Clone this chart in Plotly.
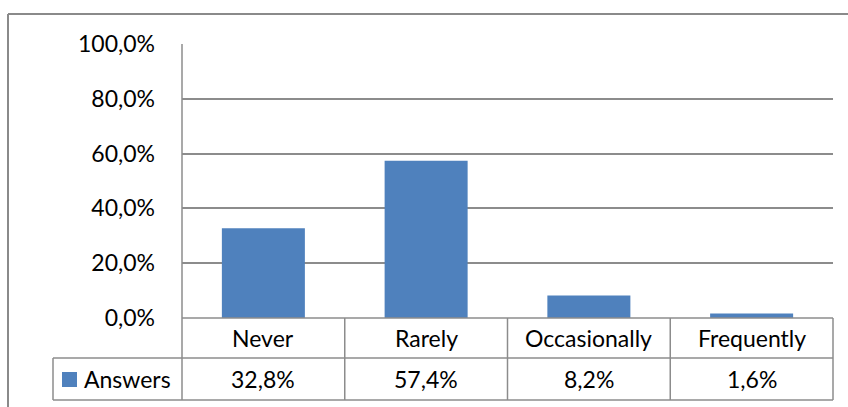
import plotly.graph_objects as go

categories = ["Never", "Rarely", "Occasionally", "Frequently"]
answers = [0.328, 0.574, 0.082, 0.016]
series_name = "Answers"
value_labels = ["32,8%", "57,4%", "8,2%", "1,6%"]

W, H = 848, 407
FONT = "Lato"
FS = 23
GRID = "#8c8c8c"
BAR = "#4f81bd"

def px(x):
    return x / W

def py(y):
    return 1 - y / H

# plot area in pixels
L, R, T, B = 182, 833, 44, 318
ROW1, ROW2 = 358, 400
LEG_L = 53

fig = go.Figure()
fig.add_trace(go.Bar(x=categories, y=answers, marker=dict(color=BAR, line=dict(width=0)),
                     name=series_name, showlegend=False))

shapes = []
def line(x0, y0, x1, y1, w=1.5, c=GRID):
    shapes.append(dict(type="line", xref="paper", yref="paper",
                       x0=px(x0), y0=py(y0), x1=px(x1), y1=py(y1),
                       line=dict(color=c, width=w), layer="above"))

# outer chart border
line(8, 14, 860, 14, 2, "#8a8a8a")
line(8, 14, 8, 420, 2, "#8a8a8a")
# table
line(L, B, R, B)
line(LEG_L, ROW1, R, ROW1)
line(LEG_L, ROW2, R, ROW2)
line(LEG_L, ROW1, LEG_L, ROW2)
line(L, T, L, ROW2)
col_edges = [L + (R - L) * i / len(categories) for i in range(len(categories) + 1)]
for xe in col_edges[1:]:
    line(xe, B, xe, ROW2)
# legend key
shapes.append(dict(type="rect", xref="paper", yref="paper",
                   x0=px(62), x1=px(77), y0=py(372), y1=py(387),
                   fillcolor=BAR, line=dict(width=0)))

annotations = []
for i, (c, v) in enumerate(zip(categories, value_labels)):
    annotations.append(dict(x=i, xref="x", y=py((B + ROW1) / 2), yref="paper",
                            text=c, showarrow=False, xanchor="center", yanchor="middle",
                            font=dict(family=FONT, size=FS, color="black")))
    annotations.append(dict(x=i, xref="x", y=py((ROW1 + ROW2) / 2), yref="paper",
                            text=v, showarrow=False, xanchor="center", yanchor="middle",
                            font=dict(family=FONT, size=FS, color="black")))
annotations.append(dict(x=px(82), xref="paper", y=py((ROW1 + ROW2) / 2), yref="paper",
                        text=series_name, showarrow=False, xanchor="left", yanchor="middle",
                        font=dict(family=FONT, size=FS, color="black")))

fig.update_layout(
    template="none",
    width=W, height=H,
    margin=dict(l=0, r=0, t=0, b=0, pad=0),
    paper_bgcolor="white", plot_bgcolor="white",
    separators=",.",
    bargap=0.49,
    showlegend=False,
    xaxis=dict(domain=[px(L), px(R)], range=[-0.5, 3.5], showticklabels=False,
               showgrid=False, zeroline=False, showline=False, fixedrange=True,
               automargin=False, ticks=""),
    yaxis=dict(domain=[py(B), py(T)], range=[0, 1], tickvals=[0, 0.2, 0.4, 0.6, 0.8, 1.0],
               tickformat=".1%", showgrid=True, gridcolor=GRID, gridwidth=1.5,
               zeroline=False, showline=False, ticks="", ticklabelstandoff=26,
               automargin=False, fixedrange=True,
               tickfont=dict(family=FONT, size=FS, color="black")),
    shapes=shapes,
    annotations=annotations,
    font=dict(family=FONT, size=FS, color="black"),
)

fig.write_html("out.html")
